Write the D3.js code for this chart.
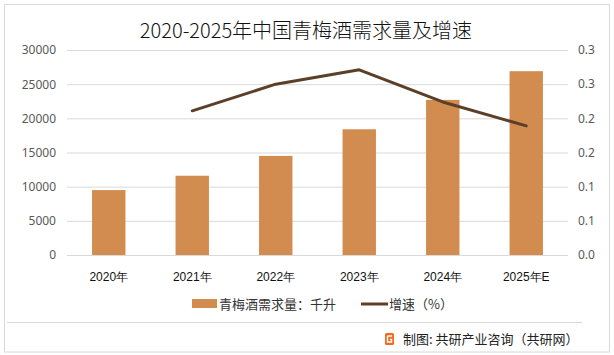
<!DOCTYPE html>
<html><head><meta charset="utf-8">
<script src="https://cdn.jsdelivr.net/npm/d3@7"></script>
<style>
html,body{margin:0;padding:0;background:#fff;}
svg{display:block;font-family:"Noto Sans CJK SC","Noto Sans",sans-serif;}
</style></head>
<body><svg id="c" width="614" height="355"></svg>
<script>
const categories = ["2020年","2021年","2022年","2023年","2024年","2025年E"];
const demand = [9500, 11600, 14500, 18400, 22700, 26900];
const growth = [null, 0.211, 0.250, 0.271, 0.224, 0.189];
const leftTicks = [0,5000,10000,15000,20000,25000,30000];
const rightTicks = [0,0.05,0.1,0.15,0.2,0.25,0.3];
const rightTickLabels = ["0.0","0.1","0.1","0.2","0.2","0.3","0.3"];
const title = "2020-2025年中国青梅酒需求量及增速";
const legendBar = "青梅酒需求量：千升";
const legendLine = "增速（%）";
const source = "制图: 共研产业咨询（共研网）";

const svg = d3.select("#c");
const barColor = "#d38c4f", lineColor = "#5c3f28";

svg.append("rect").attr("x",4.5).attr("y",4.5).attr("width",605).attr("height",347.5)
  .attr("fill","#fff").attr("stroke","#d9d9d9").attr("stroke-width",1);

svg.append("text").attr("x",306).attr("y",38).attr("text-anchor","middle")
  .attr("font-size",20).attr("font-weight",300).attr("fill","#111").text(title);

const x = d3.scaleBand().domain(categories).range([67,568]).paddingInner(0.6).paddingOuter(0.3);
const y = d3.scaleLinear().domain([0,30000]).range([255,50]);
const y2 = d3.scaleLinear().domain([0,0.3]).range([255,50]);

svg.append("g").selectAll("line").data(leftTicks).join("line")
  .attr("x1",67).attr("x2",568).attr("y1",d=>y(d)+0.5).attr("y2",d=>y(d)+0.5)
  .attr("stroke","#d9d9d9").attr("stroke-width",1);

const ya = svg.append("g").attr("transform","translate(60,0)")
  .call(d3.axisLeft(y).tickValues(leftTicks).tickSize(0).tickPadding(4).tickFormat(d3.format("d")));
ya.select(".domain").remove();
ya.selectAll("text").attr("font-size",12).attr("fill","#595959").attr("font-family","'Noto Sans','Noto Sans CJK SC',sans-serif");

svg.append("g").selectAll("text").data(rightTicks).join("text")
  .attr("x",578).attr("y",d=>y2(d)).attr("dy","0.35em")
  .attr("font-size",12).attr("fill","#595959").attr("font-family","'Noto Sans','Noto Sans CJK SC',sans-serif")
  .text((d,i)=>rightTickLabels[i]);

const xa = svg.append("g").attr("transform","translate(0,264)")
  .call(d3.axisBottom(x).tickSize(0).tickPadding(8));
xa.select(".domain").remove();
xa.selectAll("text").attr("font-size",12).attr("fill","#111");

svg.append("g").selectAll("rect").data(demand).join("rect")
  .attr("x",(d,i)=>x(categories[i])).attr("width",x.bandwidth())
  .attr("y",d=>y(d)).attr("height",d=>255-y(d)).attr("fill",barColor);

const pts = growth.map((g,i)=>({g,c:categories[i]})).filter(d=>d.g!=null);
svg.append("path").datum(pts)
  .attr("d",d3.line().x(d=>x(d.c)+x.bandwidth()/2).y(d=>y2(d.g)))
  .attr("fill","none").attr("stroke",lineColor).attr("stroke-width",3).attr("stroke-linecap","round").attr("stroke-linejoin","round");

const lg = svg.append("g");
lg.append("rect").attr("x",192).attr("y",299).attr("width",25).attr("height",9).attr("fill",barColor);
lg.append("text").attr("x",219).attr("y",309).attr("font-size",13).attr("fill","#333").text(legendBar);
lg.append("line").attr("x1",361).attr("x2",388).attr("y1",304).attr("y2",304).attr("stroke",lineColor).attr("stroke-width",3);
lg.append("text").attr("x",389).attr("y",309).attr("font-size",13).attr("fill","#333").text(legendLine);

svg.append("line").attr("x1",7).attr("x2",582).attr("y1",322.5).attr("y2",322.5).attr("stroke","#d9d9d9");

const logo = svg.append("g").attr("transform","translate(385,333)");
logo.append("rect").attr("width",9).attr("height",12).attr("rx",1.5).attr("fill","#f26b21");
logo.append("path").attr("d","M2.5 3 H7 M2.5 3 V9 H6.5 V6.5 H5").attr("fill","none").attr("stroke","#fff").attr("stroke-width",1.4);
svg.append("text").attr("x",403).attr("y",343.5).attr("font-size",13).attr("fill","#222").text(source);
</script></body></html>
